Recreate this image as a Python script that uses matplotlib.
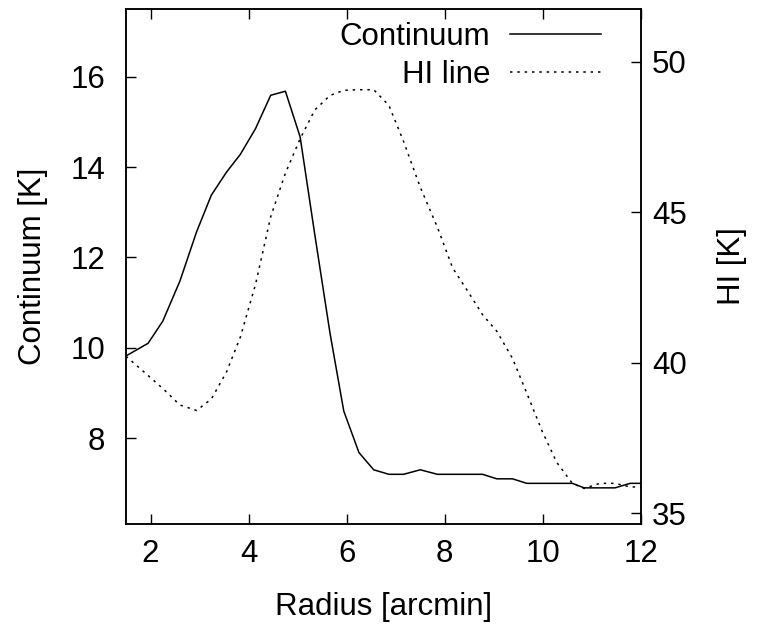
import matplotlib
matplotlib.use("Agg")
import matplotlib.pyplot as plt

plt.rcParams['font.family'] = ['Liberation Sans', 'DejaVu Sans']

radius = [1.5, 1.95, 2.25, 2.6, 2.94, 3.24, 3.55, 3.83, 4.14, 4.45, 4.75, 5.05,
          5.35, 5.66, 5.94, 6.25, 6.55, 6.86, 7.16, 7.5, 7.85, 8.16, 8.46, 8.77,
          9.06, 9.38, 9.67, 9.98, 10.28, 10.6, 10.84, 11.16, 11.47, 11.78, 12.0]
continuum = [9.82, 10.1, 10.59, 11.48, 12.57, 13.38, 13.89, 14.28, 14.85, 15.59,
             15.68, 14.67, 12.5, 10.32, 8.6, 7.68, 7.3, 7.2, 7.2, 7.3, 7.2, 7.2,
             7.2, 7.2, 7.1, 7.1, 7.0, 7.0, 7.0, 7.0, 6.9, 6.9, 6.9, 7.0, 7.0]
hi_line = [40.22, 39.58, 39.15, 38.6, 38.42, 38.8, 39.7, 40.85, 42.6, 44.85,
           46.3, 47.44, 48.4, 48.88, 49.05, 49.07, 49.07, 48.55, 47.35, 45.83,
           44.5, 43.15, 42.4, 41.6, 41.05, 40.15, 39.0, 37.75, 36.7, 36.0,
           35.83, 36.0, 36.0, 35.88, 35.88]

xticks = [2, 4, 6, 8, 10, 12]
cont_ticks = [8, 10, 12, 14, 16]
hi_ticks = [35, 40, 45, 50]

fs = 22.5
fig = plt.figure(figsize=(7.6, 6.3), dpi=100)
ax = fig.add_axes([126/760, 1-524/630, (641-126)/760, (524-9)/630])
ax2 = ax.twinx()

l1, = ax.plot(radius, continuum, color='black', lw=1.1, label='Continuum')
l2, = ax2.plot(radius, hi_line, color='black', lw=1.1,
               linestyle=(0, (1.6, 3.2)), label='HI line')

ax.set_xlim(1.5, 12)
ax.set_ylim(6.1, 17.5)
ax2.set_ylim(34.65, 51.75)

ax.set_xticks(xticks)
ax.set_yticks(cont_ticks)
ax2.set_yticks(hi_ticks)

ax.tick_params(axis='x', which='both', direction='in', top=True, bottom=True,
               length=7.5, width=1, labelsize=fs, pad=11)
ax.tick_params(axis='y', which='both', direction='in', left=True, right=False,
               length=7.5, width=1, labelsize=fs, pad=15)
ax2.tick_params(axis='y', which='both', direction='in', right=True, left=False,
                length=7.5, width=1, labelsize=fs, pad=8)
for a in (ax, ax2):
    for s in a.spines.values():
        s.set_linewidth(1.1)

ax.set_xlabel('Radius [arcmin]', fontsize=fs, labelpad=16)
ax.set_ylabel('Continuum [K]', fontsize=fs, labelpad=16)
ax2.set_ylabel('HI [K]', fontsize=fs, labelpad=22)

leg = ax2.legend(handles=[l1, l2], loc='upper right', frameon=False,
                 fontsize=fs, markerfirst=False, handlelength=2.9,
                 handletextpad=0.64, labelspacing=0.25,
                 borderaxespad=0, borderpad=0,
                 bbox_to_anchor=(0.922, 0.975))

fig.savefig('out.png', dpi=100)
